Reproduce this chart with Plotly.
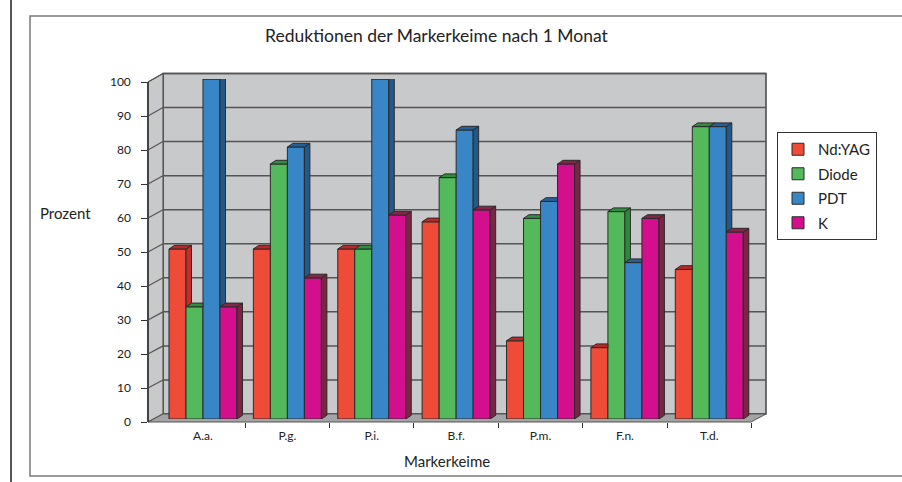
import plotly.graph_objects as go

# ---------------- data ----------------
categories = ["A.a.", "P.g.", "P.i.", "B.f.", "P.m.", "F.n.", "T.d."]
series_names = ["Nd:YAG", "Diode", "PDT", "K"]
nd_yag = [50, 50, 50, 58, 23, 21, 44]
diode = [33, 75, 50, 71, 59, 61, 86]
pdt = [100, 80, 100, 85, 64, 46, 86]
k_vals = [33, 41.5, 60, 61.5, 75, 59, 55]
y_ticks = list(range(0, 101, 10))
title_text = "Reduktionen der Markerkeime nach 1 Monat"
y_title = "Prozent"
x_title = "Markerkeime"

series_values = [nd_yag, diode, pdt, k_vals]

# ---------------- styles ----------------
front_colors = ["#EE4B38", "#53B95B", "#3886C6", "#D40F8E"]
side_colors = ["#C42E2A", "#2E8A3B", "#22588A", "#7C2444"]
top_colors = ["#B82A27", "#2F8F3E", "#24609A", "#862547"]
edge = "#2b2b2b"
FONT = "Lato"

W, H = 902, 482


def px(x):
    return x / W


def py(y):
    return 1 - y / H


# geometry (pixels)
BAR_X0, BAR_X1 = 160.8, 751.5
BAR_Y0, BAR_Y100 = 419, 79
AX_X, AX_Y0, AX_Y100 = 148, 422, 82
BK_X0, BK_X1, BK_Y0, BK_Y100 = 163, 766, 414, 73.5
FL_X1 = 751

n_cat = len(categories)
n_ser = len(series_names)
group_w = 0.806
bw = group_w / n_ser
unit_px_x = (BAR_X1 - BAR_X0) / n_cat
unit_px_y = (BAR_Y0 - BAR_Y100) / 100.0
DX = 5.5 / unit_px_x
DY = 3.7 / unit_px_y

fig = go.Figure()

xs = list(range(n_cat))
for i, (name, vals) in enumerate(zip(series_names, series_values)):
    fig.add_trace(go.Bar(
        x=xs, y=vals, name=name,
        width=bw, offset=-group_w / 2 + i * bw,
        marker=dict(color=front_colors[i], line=dict(color=edge, width=1)),
        legendgroup=name,
        hoverinfo="skip",
    ))

# invisible trace for the label axis
fig.add_trace(go.Scatter(x=[0], y=[0], xaxis="x", yaxis="y2", mode="markers",
                         marker=dict(opacity=0), showlegend=False, hoverinfo="skip"))

shapes = []
# outer frame
shapes.append(dict(type="line", xref="paper", yref="paper", x0=px(11), x1=px(11), y0=0, y1=1,
                   line=dict(color="#555555", width=2), layer="below"))
shapes.append(dict(type="rect", xref="paper", yref="paper", x0=px(30), x1=px(910), y0=py(476), y1=py(16),
                   line=dict(color="#7a7a7a", width=1.5), fillcolor="rgba(0,0,0,0)", layer="below"))
# back wall
shapes.append(dict(type="rect", xref="paper", yref="paper", x0=px(BK_X0), x1=px(BK_X1), y0=py(BK_Y0), y1=py(BK_Y100),
                   line=dict(color="#444444", width=1.5), fillcolor="#C8C9CB", layer="below"))
# left wall
shapes.append(dict(type="path", xref="paper", yref="paper",
                   path=f"M {px(AX_X)},{py(AX_Y0)} L {px(AX_X)},{py(AX_Y100)} L {px(BK_X0)},{py(BK_Y100)} L {px(BK_X0)},{py(BK_Y0)} Z",
                   line=dict(color="#444444", width=1), fillcolor="#C8C9CB", layer="below"))
# gridlines
for v in y_ticks:
    yb = BK_Y0 + (BK_Y100 - BK_Y0) * v / 100.0
    yf = AX_Y0 + (AX_Y100 - AX_Y0) * v / 100.0
    shapes.append(dict(type="line", xref="paper", yref="paper", x0=px(BK_X0), x1=px(BK_X1), y0=py(yb), y1=py(yb),
                       line=dict(color="#555555", width=1.5), layer="below"))
    shapes.append(dict(type="line", xref="paper", yref="paper", x0=px(AX_X), x1=px(BK_X0), y0=py(yf), y1=py(yb),
                       line=dict(color="#555555", width=1.2), layer="below"))
# floor
shapes.append(dict(type="path", xref="paper", yref="paper",
                   path=f"M {px(AX_X)},{py(AX_Y0)} L {px(FL_X1)},{py(AX_Y0)} L {px(BK_X1)},{py(BK_Y0)} L {px(BK_X0)},{py(BK_Y0)} Z",
                   line=dict(color="#555555", width=1), fillcolor="#A4A4A4", layer="below"))

# 3D faces of the bars (computed from data)
for j in range(n_cat):
    for i in range(n_ser):
        v = series_values[i][j]
        xl = j - group_w / 2 + i * bw
        xr = xl + bw
        vnext = series_values[i + 1][j] if i < n_ser - 1 else None
        lo = 0 if vnext is None else vnext
        if vnext is None or vnext < v:
            shapes.append(dict(type="path", xref="x", yref="y",
                               path=f"M {xr},{lo} L {xr},{v} L {xr + DX},{v + DY} L {xr + DX},{lo + DY} Z",
                               fillcolor=side_colors[i], line=dict(color=edge, width=1), layer="above"))
        if vnext is not None and vnext > v:
            p = f"M {xl},{v} L {xr},{v} L {xr},{v + DY} L {xl + DX},{v + DY} Z"
        else:
            p = f"M {xl},{v} L {xr},{v} L {xr + DX},{v + DY} L {xl + DX},{v + DY} Z"
        shapes.append(dict(type="path", xref="x", yref="y", path=p,
                           fillcolor=top_colors[i], line=dict(color=edge, width=1), layer="above"))

annotations = [
    dict(text=y_title, xref="paper", yref="paper", x=px(38), y=py(213), xanchor="left", yanchor="middle",
         showarrow=False, font=dict(family=FONT, size=15, color="#222")),
    dict(text=x_title, xref="paper", yref="paper", x=px(447), y=py(461), xanchor="center", yanchor="middle",
         showarrow=False, font=dict(family=FONT, size=15, color="#222")),
]

fig.update_layout(
    width=W, height=H,
    margin=dict(l=0, r=0, t=0, b=0, pad=0, autoexpand=False),
    paper_bgcolor="white", plot_bgcolor="rgba(0,0,0,0)",
    barmode="overlay",
    title=dict(text=title_text, x=px(436.5), y=py(36), xanchor="center", yanchor="middle",
               font=dict(family=FONT, size=17.5, color="#222")),
    xaxis=dict(domain=[px(BAR_X0), px(BAR_X1)], range=[-0.5, n_cat - 0.5],
               anchor="free", position=py(AX_Y0), automargin=False,
               tickmode="array", tickvals=xs, ticktext=categories, ticks="",
               ticklabelstandoff=5,
               minor=dict(tickmode="array", tickvals=[k + 0.5 for k in range(n_cat)], ticks="outside",
                          ticklen=5, tickcolor="#333", tickwidth=1, showgrid=False),
               showline=False, showgrid=False, zeroline=False,
               tickfont=dict(family=FONT, size=12, color="#222")),
    yaxis=dict(domain=[py(BAR_Y0), py(BAR_Y100)], range=[0, 100], visible=False, anchor="x", automargin=False),
    yaxis2=dict(domain=[py(AX_Y0), py(AX_Y100)], range=[0, 100], anchor="free", position=px(AX_X),
                automargin=False,
                tickmode="array", tickvals=y_ticks, ticks="outside", ticklen=6, tickcolor="#333",
                ticklabelstandoff=8,
                showline=True, linecolor="#444", linewidth=1.5, showgrid=False, zeroline=False,
                tickfont=dict(family=FONT, size=12, color="#1a1a1a")),
    legend=dict(x=px(777), y=py(132), xanchor="left", yanchor="top",
                bgcolor="white", bordercolor="#333", borderwidth=1,
                font=dict(family=FONT, size=15, color="#222"), tracegroupgap=2,
                itemwidth=30),
    shapes=shapes,
    annotations=annotations,
)

fig.write_html("out.html", config={"displayModeBar": False},
               post_script="document.body.style.margin='0';document.body.style.overflow='hidden';")
